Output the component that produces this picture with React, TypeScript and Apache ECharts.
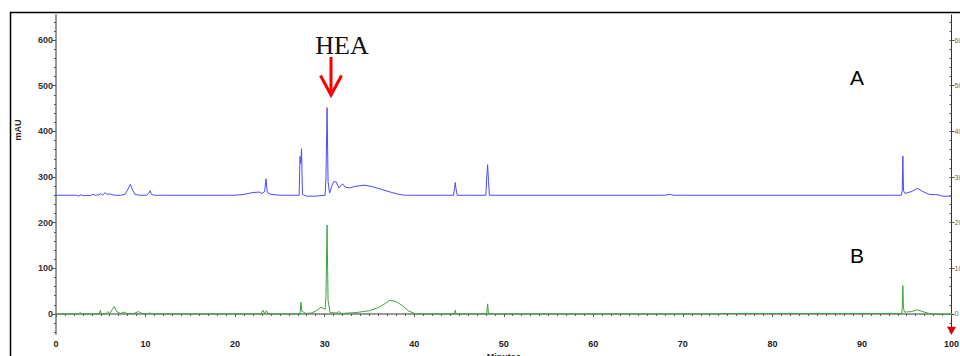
import React, { useEffect, useRef } from "react";
import * as echarts from "echarts";

// Trace A (blue): [minutes, mAU]
const traceA: [number, number][] = [
  [0, 260], [2.3, 260], [2.5, 258], [2.8, 261], [3.1, 259], [3.4, 260], [3.8, 259], [4.1, 262], [4.4, 260],
  [4.8, 261], [5.0, 264], [5.2, 260], [5.5, 266], [5.7, 262], [6.0, 263], [6.5, 260], [7.2, 260], [7.7, 262],
  [8.0, 272], [8.3, 284], [8.5, 274], [8.8, 262], [9.3, 260], [10.1, 260], [10.35, 264], [10.5, 270], [10.65, 262],
  [11, 260], [20, 260], [21, 262], [22, 266], [22.7, 267], [23.0, 264], [23.3, 268], [23.45, 296], [23.6, 266],
  [24.0, 262], [25, 260], [27.15, 260], [27.25, 345], [27.33, 330], [27.42, 362], [27.52, 262], [28, 258], [29, 258],
  [30.05, 260], [30.15, 300], [30.27, 452], [30.38, 290], [30.55, 265], [30.8, 280], [31.0, 290], [31.3, 289],
  [31.6, 276], [32.0, 285], [32.3, 278], [32.8, 276], [33.5, 280], [34.5, 282], [35.5, 278], [36.5, 272],
  [37.5, 266], [38.3, 262], [39, 260], [44.4, 260], [44.5, 275], [44.58, 288], [44.66, 275], [44.8, 260],
  [48.0, 260], [48.1, 300], [48.2, 327], [48.3, 290], [48.4, 260], [68, 260], [68.5, 262], [69, 260],
  [94.4, 260], [94.5, 270], [94.57, 346], [94.64, 270], [94.8, 264], [95.5, 268], [96.2, 275], [96.8, 268],
  [97.5, 262], [98.5, 261], [99, 258], [100, 258],
];

// Trace B (green): [minutes, mAU]
const traceB: [number, number][] = [
  [0, 0], [2.5, 0], [2.7, 3], [2.9, 0], [3.2, 0], [4.85, 0], [4.95, 8], [5.05, 0], [5.6, 1], [5.8, 5], [6.0, 1],
  [6.3, 10], [6.5, 16], [6.8, 5], [7.2, 1], [7.6, 4], [7.9, 1], [8.7, 1], [9.2, 5], [9.6, 1], [10.3, 1], [10.5, 2],
  [10.7, 0], [22.9, 0], [23.1, 8], [23.3, 1], [23.5, 7], [23.7, 0], [27.25, 0], [27.35, 26], [27.45, 6], [27.9, 1],
  [28.5, 2], [29.0, 6], [29.6, 15], [30.05, 10], [30.15, 40], [30.27, 195], [30.38, 30], [30.6, 3], [31.3, 2],
  [31.6, 5], [31.9, 1], [33.5, 3], [35, 7], [36, 14], [36.7, 22], [37.3, 30], [38.0, 27], [38.7, 18], [39.4, 6],
  [40.2, 0], [44.5, 0], [44.58, 8], [44.68, 0], [48.1, 0], [48.2, 22], [48.3, 0], [74.0, 0], [74.2, 1], [94.45, 1],
  [94.5, 14], [94.57, 62], [94.64, 12], [94.75, 4], [95.5, 5], [96.2, 9], [96.8, 5], [97.5, 1], [98, -1], [100, -1],
];

const yMajorTicks = [0, 100, 200, 300, 400, 500, 600];
const yMinorTicks = [-40, -20, 0, 20, 40, 60, 80, 100, 120, 140, 160, 180, 200, 220, 240, 260, 280, 300, 320, 340,
  360, 380, 400, 420, 440, 460, 480, 500, 520, 540, 560, 580, 600, 620, 640];
const endMarker: [number, number] = [100, -37];

const Y_MIN = -44;
const Y_MAX = 655;

export default function App() {
  const ref = useRef<HTMLDivElement>(null);
  useEffect(() => {
    if (!ref.current) return;
    const chart = echarts.init(ref.current, null, { renderer: "svg" });
    const labelFont = { fontFamily: "Liberation Sans, Arial, sans-serif", fontWeight: "bold" as const };
    chart.setOption({
      animation: false,
      backgroundColor: "#ffffff",
      grid: { left: 56, right: 8.5, top: 15, bottom: 22, containLabel: false, outerBoundsMode: "none" },
      xAxis: {
        type: "value",
        min: 0,
        max: 100,
        interval: 10,
        name: "Minutes",
        nameLocation: "middle",
        nameGap: 17,
        nameTextStyle: { ...labelFont, fontSize: 9, color: "#222" },
        axisLine: { show: true, lineStyle: { color: "#999", width: 2 } },
        axisTick: { show: true, length: 3, lineStyle: { color: "#555" } },
        minorTick: { show: true, splitNumber: 10, length: 2, lineStyle: { color: "#555" } },
        axisLabel: { ...labelFont, fontSize: 9, color: "#222", margin: 5 },
        splitLine: { show: false },
      },
      yAxis: [
        {
          type: "value",
          min: Y_MIN,
          max: Y_MAX,
          position: "left",
          axisLine: { show: true, lineStyle: { color: "#999", width: 2 } },
          axisTick: { show: true, customValues: yMajorTicks, length: 4, lineStyle: { color: "#555" } },
          axisLabel: { ...labelFont, customValues: yMajorTicks, fontSize: 9, color: "#333", margin: 3 },
          splitLine: { show: false },
        },
        {
          type: "value",
          min: Y_MIN,
          max: Y_MAX,
          position: "left",
          axisLine: { show: false },
          axisTick: { show: true, customValues: yMinorTicks, length: 2, lineStyle: { color: "#555" } },
          axisLabel: { show: false },
          splitLine: { show: false },
        },
        {
          type: "value",
          min: Y_MIN,
          max: Y_MAX,
          position: "right",
          axisLine: { show: true, onZero: false, lineStyle: { color: "#333", width: 1 } },
          axisTick: { show: true, customValues: yMajorTicks, length: 3, lineStyle: { color: "#555" } },
          axisLabel: { customValues: yMajorTicks, fontSize: 7, color: "#666", margin: 3, fontFamily: "Liberation Sans, Arial, sans-serif" },
          splitLine: { show: false },
        },
        {
          type: "value",
          min: Y_MIN,
          max: Y_MAX,
          position: "right",
          axisLine: { show: false },
          axisTick: { show: true, inside: true, customValues: yMinorTicks, length: 2, lineStyle: { color: "#555" } },
          axisLabel: { show: false },
          splitLine: { show: false },
        },
      ],
      series: [
        {
          name: "A",
          type: "line",
          yAxisIndex: 0,
          data: traceA,
          showSymbol: false,
          lineStyle: { color: "#4b4bff", width: 1 },
          itemStyle: { color: "#4b4bff" },
        },
        {
          name: "B",
          type: "line",
          yAxisIndex: 0,
          data: traceB,
          showSymbol: false,
          lineStyle: { color: "#3fa33f", width: 1 },
          itemStyle: { color: "#3fa33f" },
          markPoint: {
            symbol: "triangle",
            symbolRotate: 180,
            symbolSize: [9, 8],
            label: { show: false },
            itemStyle: { color: "#e00000" },
            data: [{ coord: endMarker }],
          },
        },
      ],
      graphic: [
        {
          type: "rect",
          shape: { x: 10.5, y: 12.5, width: 1000, height: 400 },
          style: { fill: "none", stroke: "#000", lineWidth: 1.5 },
          silent: true,
        },
        {
          type: "text",
          x: 18,
          y: 130,
          rotation: Math.PI / 2,
          style: {
            text: "mAU",
            font: "bold 9px 'Liberation Sans', Arial, sans-serif",
            fill: "#222",
            align: "center",
            verticalAlign: "middle",
          },
        },
        {
          type: "text",
          x: 342,
          y: 45,
          style: {
            text: "HEA",
            font: "26px 'Liberation Serif', 'Times New Roman', serif",
            fill: "#111",
            align: "center",
            verticalAlign: "middle",
          },
        },
        {
          type: "line",
          shape: { x1: 331, y1: 57, x2: 331, y2: 94 },
          style: { stroke: "#ff0000", lineWidth: 3 },
        },
        {
          type: "polyline",
          shape: { points: [[320.5, 75.5], [331, 95], [341.5, 75.5]] },
          style: { stroke: "#ff0000", lineWidth: 3, fill: "none" },
        },
        {
          type: "text",
          x: 857,
          y: 77,
          style: {
            text: "A",
            font: "21px 'Liberation Sans', Arial, sans-serif",
            fill: "#000",
            align: "center",
            verticalAlign: "middle",
          },
        },
        {
          type: "text",
          x: 857,
          y: 255,
          style: {
            text: "B",
            font: "21px 'Liberation Sans', Arial, sans-serif",
            fill: "#000",
            align: "center",
            verticalAlign: "middle",
          },
        },
      ],
    });
    return () => chart.dispose();
  }, []);
  return (
    <div
      ref={ref}
      style={{ position: "fixed", left: 0, top: 0, width: 960, height: 356, background: "#fff" }}
    />
  );
}
